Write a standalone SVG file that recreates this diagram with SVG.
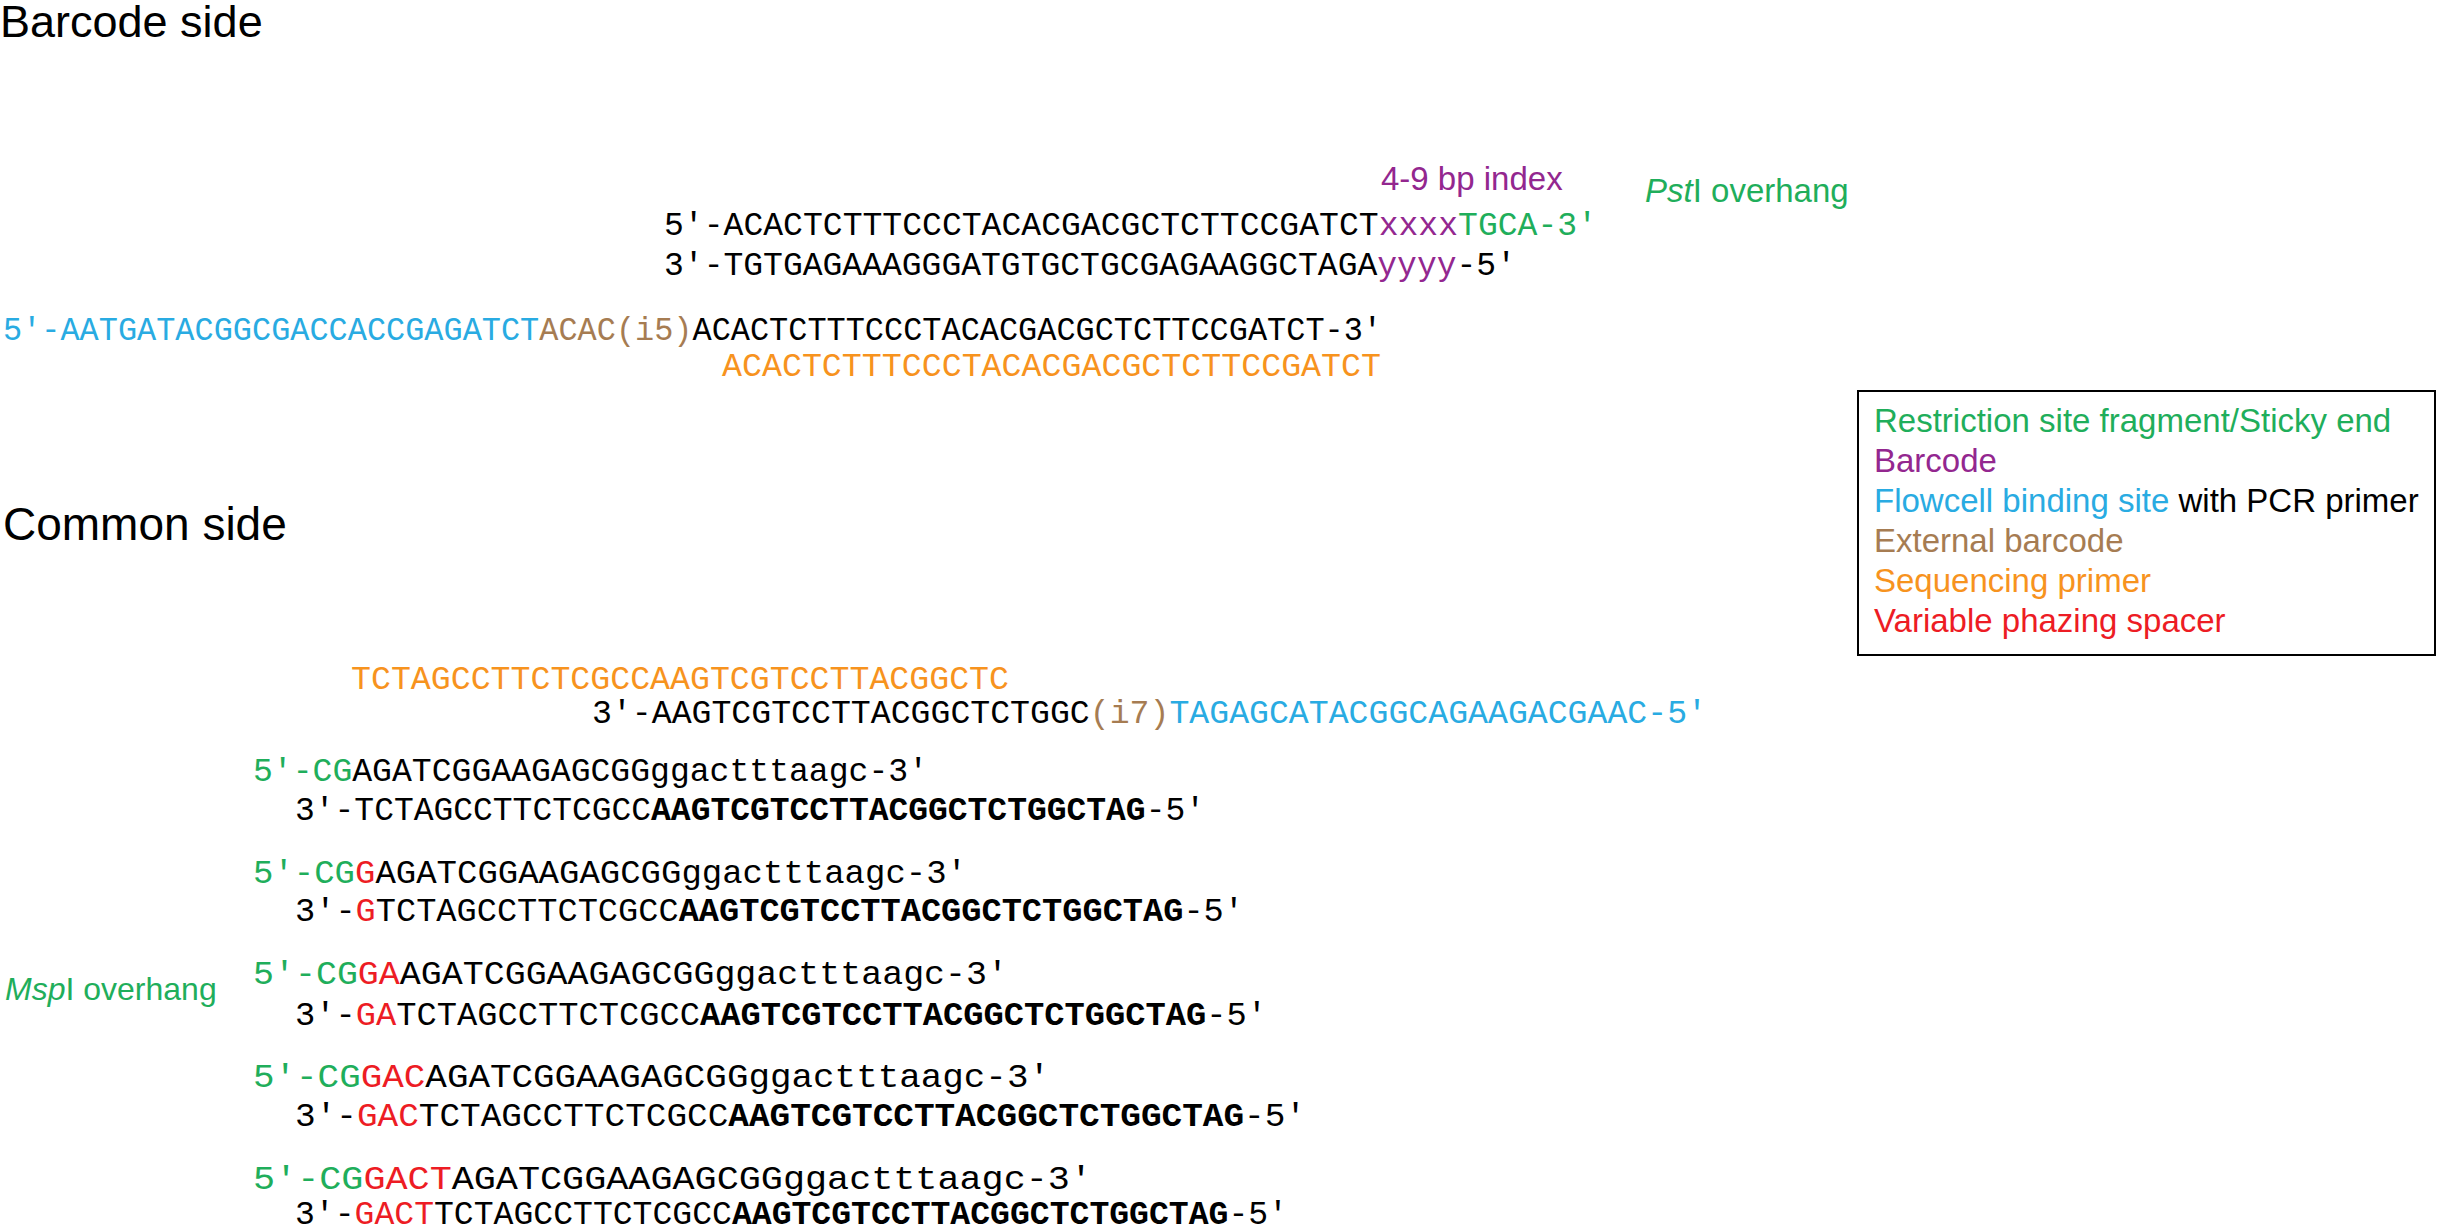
<svg xmlns="http://www.w3.org/2000/svg" width="2438" height="1232" viewBox="0 0 2438 1232">
<style>
.s{font-family:"Liberation Sans",Arial,sans-serif}
.m{font-family:"Liberation Mono","Courier New",monospace;font-size:33px;fill:#000}
.g{fill:#1fae5b}.p{fill:#93278f}.b{fill:#29abe2}.br{fill:#a67c52}.o{fill:#f7931e}.r{fill:#ed1c24}
.bd{font-weight:bold}
.l{font-size:33px}
</style>
<rect width="2438" height="1232" fill="#fff"/>
<g id="titles">
<text class="s" x="0" y="37" font-size="45">Barcode side</text>
<text class="s" x="3" y="540" font-size="46">Common side</text>
</g>
<g id="barcode">
<text class="s p" x="1381" y="190" font-size="33">4-9 bp index</text>
<text class="s g" x="1645" y="202" font-size="33"><tspan font-style="italic">Pst</tspan>I overhang</text>
<text class="m" x="664" y="235" textLength="933" lengthAdjust="spacingAndGlyphs">5′-ACACTCTTTCCCTACACGACGCTCTTCCGATCT<tspan class="p">xxxx</tspan><tspan class="g">TGCA-3′</tspan></text>
<text class="m" x="664" y="275" textLength="852" lengthAdjust="spacingAndGlyphs">3′-TGTGAGAAAGGGATGTGCTGCGAGAAGGCTAGA<tspan class="p">yyyy</tspan>-5′</text>
<text class="m" x="3" y="340" textLength="1379" lengthAdjust="spacingAndGlyphs"><tspan class="b">5′-AATGATACGGCGACCACCGAGATCT</tspan><tspan class="br">ACAC(i5)</tspan>ACACTCTTTCCCTACACGACGCTCTTCCGATCT-3′</text>
<text class="m o" x="722" y="376" textLength="659" lengthAdjust="spacingAndGlyphs">ACACTCTTTCCCTACACGACGCTCTTCCGATCT</text>
</g>
<g id="common">
<text class="m o" x="351" y="689" textLength="658" lengthAdjust="spacingAndGlyphs">TCTAGCCTTCTCGCCAAGTCGTCCTTACGGCTC</text>
<text class="m" x="592" y="723" textLength="1115" lengthAdjust="spacingAndGlyphs">3′-AAGTCGTCCTTACGGCTCTGGC<tspan class="br">(i7)</tspan><tspan class="b">TAGAGCATACGGCAGAAGACGAAC-5′</tspan></text>
<text class="s g" x="5" y="1000" font-size="32"><tspan font-style="italic">Msp</tspan>I overhang</text>
</g>
<g id="pair1">
<text class="m" x="253" y="781" textLength="675" lengthAdjust="spacingAndGlyphs"><tspan class="g">5′-CG</tspan>AGATCGGAAGAGCGGggactttaagc-3′</text>
<text class="m" x="295" y="820" textLength="910" lengthAdjust="spacingAndGlyphs">3′-TCTAGCCTTCTCGCC<tspan class="bd">AAGTCGTCCTTACGGCTCTGGCTAG</tspan>-5′</text>
</g>
<g id="pair2">
<text class="m" x="253" y="883" textLength="714" lengthAdjust="spacingAndGlyphs"><tspan class="g">5′-CG</tspan><tspan class="r">G</tspan>AGATCGGAAGAGCGGggactttaagc-3′</text>
<text class="m" x="295" y="921" textLength="949" lengthAdjust="spacingAndGlyphs">3′-<tspan class="r">G</tspan>TCTAGCCTTCTCGCC<tspan class="bd">AAGTCGTCCTTACGGCTCTGGCTAG</tspan>-5′</text>
</g>
<g id="pair3">
<text class="m" x="253" y="984" textLength="755" lengthAdjust="spacingAndGlyphs"><tspan class="g">5′-CG</tspan><tspan class="r">GA</tspan>AGATCGGAAGAGCGGggactttaagc-3′</text>
<text class="m" x="295" y="1025" textLength="972" lengthAdjust="spacingAndGlyphs">3′-<tspan class="r">GA</tspan>TCTAGCCTTCTCGCC<tspan class="bd">AAGTCGTCCTTACGGCTCTGGCTAG</tspan>-5′</text>
</g>
<g id="pair4">
<text class="m" x="253" y="1087" textLength="797" lengthAdjust="spacingAndGlyphs"><tspan class="g">5′-CG</tspan><tspan class="r">GAC</tspan>AGATCGGAAGAGCGGggactttaagc-3′</text>
<text class="m" x="295" y="1126" textLength="1011" lengthAdjust="spacingAndGlyphs">3′-<tspan class="r">GAC</tspan>TCTAGCCTTCTCGCC<tspan class="bd">AAGTCGTCCTTACGGCTCTGGCTAG</tspan>-5′</text>
</g>
<g id="pair5">
<text class="m" x="253" y="1189" textLength="839" lengthAdjust="spacingAndGlyphs"><tspan class="g">5′-CG</tspan><tspan class="r">GACT</tspan>AGATCGGAAGAGCGGggactttaagc-3′</text>
<text class="m" x="295" y="1224" textLength="993" lengthAdjust="spacingAndGlyphs">3′-<tspan class="r">GACT</tspan>TCTAGCCTTCTCGCC<tspan class="bd">AAGTCGTCCTTACGGCTCTGGCTAG</tspan>-5′</text>
</g>
<g id="legend">
<rect x="1858" y="391" width="577" height="264" fill="#fff" stroke="#000" stroke-width="2"/>
<text class="s l g" x="1874" y="432">Restriction site fragment/Sticky end</text>
<text class="s l p" x="1874" y="472">Barcode</text>
<text class="s l" x="1874" y="512"><tspan class="b">Flowcell binding site</tspan> with PCR primer</text>
<text class="s l br" x="1874" y="552">External barcode</text>
<text class="s l o" x="1874" y="592">Sequencing primer</text>
<text class="s l r" x="1874" y="632">Variable phazing spacer</text>
</g>
<g id="connectors"></g>
</svg>
